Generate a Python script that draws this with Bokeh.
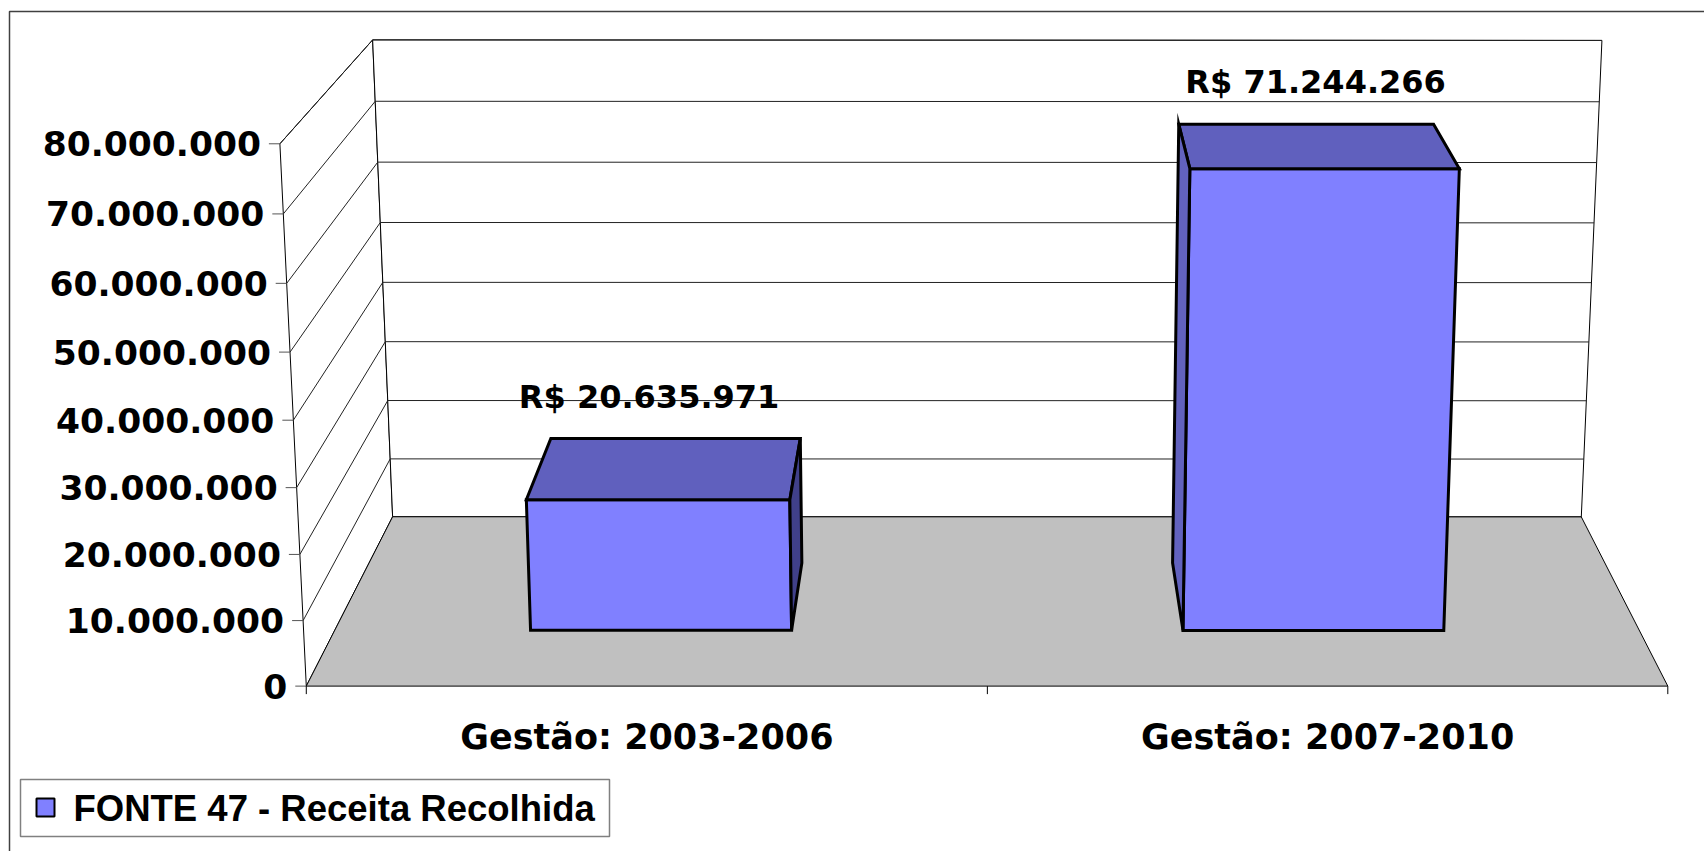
import numpy as np
from bokeh.plotting import figure
from bokeh.models import Range1d
from bokeh.embed import file_html
from bokeh.resources import INLINE
from bokeh.core.properties import value

# ---------------- data ----------------
categories = ["Gestão: 2003-2006", "Gestão: 2007-2010"]
receita = [20635971, 71244266]
value_labels = ["R$ 20.635.971", "R$ 71.244.266"]
y_ticks = [0, 10000000, 20000000, 30000000, 40000000, 50000000, 60000000, 70000000, 80000000]
y_tick_labels = ["0", "10.000.000", "20.000.000", "30.000.000", "40.000.000",
                 "50.000.000", "60.000.000", "70.000.000", "80.000.000"]
series_name = "FONTE 47 - Receita Recolhida"
y_max = 80000000

# ---------------- layout / style ----------------
W, H = 1704, 851
FRONT = "#8080FF"
TOP = "#6060BE"
SIDE_R = "#40408A"
SIDE_L = "#6262BE"
FLOOR = "#C0C0C0"
NUM_FONT = value("DejaVu Sans")
LEG_FONT = value("Liberation Sans")

# camera calibration: unit box corners (x, value, depth) -> page pixels
box_world = [(0, 0, 0), (1, 0, 0), (0, 1, 0), (0, 0, 1), (1, 0, 1), (0, 1, 1), (1, 1, 1)]
box_page = [(306, 686), (1667, 686), (279.5, 142.5), (392, 516), (1581, 516), (372, 40), (1601.5, 40)]

rows = []
for (Xw, Yw, Zw), (u, v) in zip(box_world, box_page):
    u, v = u / 1000.0, v / 1000.0
    rows.append([Xw, Yw, Zw, 1, 0, 0, 0, 0, -u * Xw, -u * Yw, -u * Zw, -u])
    rows.append([0, 0, 0, 0, Xw, Yw, Zw, 1, -v * Xw, -v * Yw, -v * Zw, -v])
_, _, vt = np.linalg.svd(np.array(rows, dtype=float))
P = vt[-1].reshape(3, 4)
_, _, vtc = np.linalg.svd(P)
cam = vtc[-1]
cam = cam[:3] / cam[3]


def proj(x, y, z):
    h = P @ np.array([x, y, z, 1.0])
    return 1000.0 * h[0] / h[2], 1000.0 * h[1] / h[2]


def poly(pts):
    xs, ys = zip(*[proj(*q) for q in pts])
    return list(xs), list(ys)


p = figure(width=W, height=H, x_range=Range1d(0, W), y_range=Range1d(H, 0),
           x_axis_type=None, y_axis_type=None, output_backend="svg",
           toolbar_location=None, min_border=0)
p.grid.visible = False
p.outline_line_color = None
p.background_fill_color = "white"
p.border_fill_color = "white"

# chart area border (left + top visible)
p.line([9, 9, W + 5], [H + 5, 11, 11], line_color="#404040", line_width=1.5)

# walls and floor
sx, sy = poly([(0, 0, 0), (0, 0, 1), (0, 1, 1), (0, 1, 0)])
p.patch(sx, sy, fill_color="white", line_color="black", line_width=1)
bx, by = poly([(0, 0, 1), (1, 0, 1), (1, 1, 1), (0, 1, 1)])
p.patch(bx, by, fill_color="white", line_color="black", line_width=1)

# gridlines
gx, gy = [], []
for t in y_ticks[1:]:
    yv = t / y_max
    a = proj(0, yv, 0); b = proj(0, yv, 1); c = proj(1, yv, 1)
    gx.append([a[0], b[0], c[0]]); gy.append([a[1], b[1], c[1]])
p.multi_line(gx, gy, line_color="#222222", line_width=1)

fx, fy = poly([(0, 0, 0), (1, 0, 0), (1, 0, 1), (0, 0, 1)])
p.patch(fx, fy, fill_color=FLOOR, line_color="black", line_width=1)

# value axis ticks & labels
tx, ty, lx, ly = [], [], [], []
for t in y_ticks:
    a = proj(0, t / y_max, 0)
    tx.append([a[0] - 11, a[0]]); ty.append([a[1], a[1]])
    lx.append(a[0] - 19); ly.append(a[1])
p.multi_line(tx, ty, line_color="#555555", line_width=1)
p.text(x=lx, y=ly, text=y_tick_labels, text_font=NUM_FONT, text_font_style="bold",
       text_font_size="34.5px", text_align="right", text_baseline="middle", text_color="black")

# category axis ticks & labels
n = len(categories)
cx, cy = [], []
for k in range(n + 1):
    a = proj(k / n, 0, 0)
    cx.append([a[0], a[0]]); cy.append([a[1], a[1] + 8])
p.multi_line(cx, cy, line_color="black", line_width=1)
clx = [proj((i + 0.5) / n, 0, 0)[0] for i in range(n)]
cly = [proj((i + 0.5) / n, 0, 0)[1] + 51 for i in range(n)]
p.text(x=clx, y=cly, text=categories, text_font=NUM_FONT, text_font_style="bold",
       text_font_size="35px", text_align="center", text_baseline="alphabetic", text_color="black")

# 3D bars
bar_w = (1.0 / n) / 2.5
z0, z1 = 0.3, 0.7
vlx, vly = [], []
for i, val in enumerate(receita):
    xc = (i + 0.5) / n
    xa, xb = xc - bar_w / 2, xc + bar_w / 2
    yt = val / y_max
    faces = [
        ([(xa, 0, z0), (xb, 0, z0), (xb, yt, z0), (xa, yt, z0)], np.array([0, 0, -1.0]), FRONT),
        ([(xa, yt, z0), (xb, yt, z0), (xb, yt, z1), (xa, yt, z1)], np.array([0, 1.0, 0]), TOP),
        ([(xb, 0, z0), (xb, 0, z1), (xb, yt, z1), (xb, yt, z0)], np.array([1.0, 0, 0]), SIDE_R),
        ([(xa, 0, z0), (xa, 0, z1), (xa, yt, z1), (xa, yt, z0)], np.array([-1.0, 0, 0]), SIDE_L),
    ]
    for pts, nrm, col in faces:
        ctr = np.mean(np.array(pts, dtype=float), axis=0)
        if np.dot(nrm, cam - ctr) > 0:
            xs, ys = poly(pts)
            p.patch(xs, ys, fill_color=col, line_color="black", line_width=3,
                    line_join="miter")
    vlx.append(proj(xc, yt, z0)[0] - 9)
    vly.append(proj(xc, yt, z1)[1] - 42)

p.text(x=vlx, y=vly, text=value_labels, text_font=NUM_FONT, text_font_style="bold",
       text_font_size="32px", text_align="center", text_baseline="alphabetic", text_color="black")

# legend
p.quad(left=[20], right=[609], top=[779], bottom=[836], fill_color="white",
       line_color="#808080", line_width=1.5)
p.quad(left=[36], right=[54], top=[798], bottom=[816], fill_color=FRONT,
       line_color="black", line_width=2)
p.text(x=[73], y=[808], text=[series_name], text_font=LEG_FONT, text_font_style="bold",
       text_font_size="36.5px", text_align="left", text_baseline="middle", text_color="black")

open("out.html", "w").write(file_html(p, INLINE))
